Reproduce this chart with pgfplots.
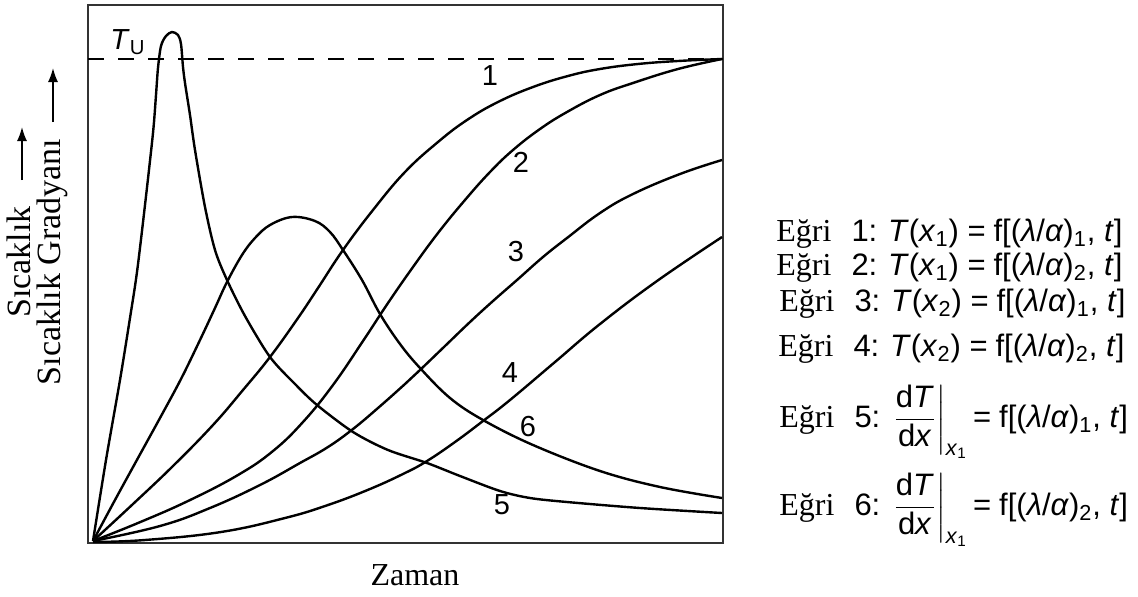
\documentclass[border=0pt]{standalone}
\usepackage{amsmath}
\usepackage{fontspec}
\setmainfont{Liberation Serif}
\newfontfamily\lsans{Liberation Sans}
\usepackage{pgfplots}
\pgfplotsset{compat=1.18}
\usetikzlibrary{arrows.meta}

\newcommand{\serifsize}{\fontsize{16}{19}\selectfont}
\newcommand{\sanssize}{\fontsize{15.5}{18}\selectfont}
\newcommand{\egri}[1]{Eğri\hspace{10pt}{\lsans\sanssize #1:}}
\newcommand{\fl}[1]{{\lsans\sanssize f[(\textit{λ}/\textit{α})\textsubscript{#1}, \textit{t}]}}
\newcommand{\dTdx}{{\lsans\sanssize$\left.\dfrac{\text{d\textit{T}}}{\text{d\textit{x}}}\right|_{\text{\textit{x}\textsubscript{1}}}$}}

\begin{document}
\begin{tikzpicture}
\begin{axis}[
  at={(0,0)}, anchor=south west,
  scale only axis, width=317.5pt, height=269pt,
  xmin=0, xmax=635, ymin=0, ymax=538,
  xtick=\empty, ytick=\empty,
  axis line style={line width=1.3pt, black!80},
  clip=false,
  every axis plot/.append style={black, line width=1.2pt},
]
% upper temperature level
\addplot[dash pattern=on 8pt off 7pt] coordinates {(0,484) (635,484)};

% curve 1
\addplot[smooth, tension=0.7] coordinates {
(5,2) (45,39) (85,77) (125,118) (155,153) (182,186) (210,225) (230,255)
(255,293) (285,333) (317,371) (350,401) (379,423) (410,441) (445,456)
(480,467) (512,474) (550,479) (590,482) (634,484)};
% curve 2
\addplot[smooth, tension=0.7] coordinates {
(5,2) (50,20) (100,42) (150,68) (185,92) (215,121) (245,158) (275,202)
(300,240) (325,276) (350,310) (377,343) (402,371) (425,393) (452,414)
(479,431) (512,448) (545,460) (590,474) (634,484)};
% curve 3
\addplot[smooth, tension=0.7] coordinates {
(5,2) (72,17) (122,35) (172,58) (212,80) (240,96) (265,114) (290,135)
(317,159) (332,173) (357,197) (382,221) (405,242) (429,263) (455,286)
(479,305) (512,330) (545,349) (592,369) (634,383)};
% curve 4
\addplot[smooth, tension=0.7] coordinates {
(5,1) (57,3) (133,11) (197,25) (240,38) (282,54) (317,70) (339,82)
(367,101) (395,122) (422,143) (467,181) (512,219) (569,262) (634,306)};
% curve 5
\addplot[smooth, tension=0.5] coordinates {
(5,2) (18,83) (32,163) (42,225) (49,271) (57,338) (65,410) (68,448)
(70,475) (73,497) (78,507) (84,511) (90,508) (93,499) (95,476) (97,460)
(102,428) (107,393) (117,336) (127,293) (139,263) (157,227) (182,186)
(207,159) (229,138) (265,111) (300,93) (339,80) (372,67) (412,52)
(442,45) (479,41) (552,35) (634,30)};
% curve 6
\addplot[smooth, tension=0.6] coordinates {
(5,2) (27,43) (50,85) (72,125) (93,164) (112,203) (127,235) (139,261)
(154,288) (167,305) (182,318) (204,326) (227,322) (242,311) (255,293)
(274,263) (292,229) (312,199) (332,175) (362,145) (395,123) (445,98)
(512,72) (572,56) (634,45)};

% curve numbers
\begin{scope}[every node/.style={font=\lsans\fontsize{14.5}{17}\selectfont}]
\node at (axis cs:402,467) {1};
\node at (axis cs:433,381) {2};
\node at (axis cs:428,291) {3};
\node at (axis cs:422,170) {4};
\node at (axis cs:414,38) {5};
\node at (axis cs:440,116) {6};
\node at (axis cs:40,501) {\textit{T}\textsubscript{U}};
\end{scope}

% axis titles
\node[font=\serifsize, anchor=base] at (axis cs:327,-42) {Zaman};
\node[font=\fontsize{17}{20}\selectfont, rotate=90, anchor=base] at (axis cs:-57,281) {Sıcaklık};
\node[font=\fontsize{17}{20}\selectfont, rotate=90, anchor=base] at (axis cs:-27,281) {Sıcaklık Gradyanı};
\draw[line width=0.8pt, -{Latex[length=7pt,width=5pt]}] (axis cs:-66,363) -- (axis cs:-66,416);
\draw[line width=0.8pt, -{Latex[length=7pt,width=5pt]}] (axis cs:-35,421) -- (axis cs:-35,475);

% key to the curves
\begin{scope}[every node/.style={font=\serifsize, anchor=base west, inner sep=0pt}]
\node at (axis cs:688,302) {\egri{1} {\lsans\sanssize\textit{T}(\textit{x}\textsubscript{1}) =} \fl{1}};
\node at (axis cs:688,268) {\egri{2} {\lsans\sanssize\textit{T}(\textit{x}\textsubscript{1}) =} \fl{2}};
\node at (axis cs:691,232) {\egri{3} {\lsans\sanssize\textit{T}(\textit{x}\textsubscript{2}) =} \fl{1}};
\node at (axis cs:690,187) {\egri{4} {\lsans\sanssize\textit{T}(\textit{x}\textsubscript{2}) =} \fl{2}};
\node at (axis cs:691,116) {\egri{5} \dTdx\,{\lsans\sanssize =} \fl{1}};
\node at (axis cs:691,28) {\egri{6} \dTdx\,{\lsans\sanssize =} \fl{2}};
\end{scope}
\end{axis}
\pgfresetboundingbox
\path (-44pt,-26.5pt) rectangle (525pt,271.5pt);
\end{tikzpicture}
\end{document}
